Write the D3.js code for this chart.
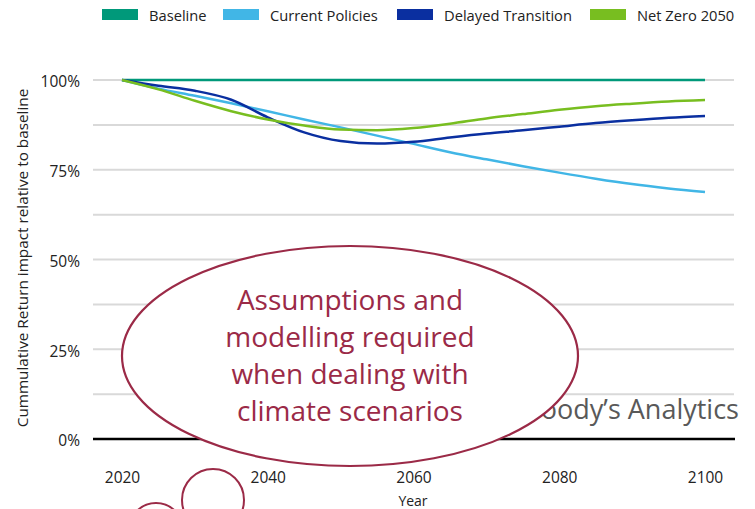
<!DOCTYPE html>
<html>
<head>
<meta charset="utf-8">
<script src="https://cdn.jsdelivr.net/npm/d3@7"></script>
<style>
  body { margin: 0; background: #fff; }
  svg { font-family: "Open Sans", "Noto Sans", sans-serif; }
</style>
</head>
<body>
<svg id="chart" width="755" height="509"></svg>
<script>
const years = [2020, 2025, 2030, 2035, 2040, 2045, 2050, 2055, 2060, 2065, 2070, 2075, 2080, 2085, 2090, 2095, 2100]
const baseline = [100, 100, 100, 100, 100, 100, 100, 100, 100, 100, 100, 100, 100, 100, 100, 100, 100]
const currentPolicies = [100, 97.6, 95.6, 93.5, 91.3, 89, 86.8, 84.5, 82.2, 79.9, 77.9, 76, 74.2, 72.5, 71, 69.8, 68.8]
const delayedTransition = [100, 98.4, 97, 94.5, 89.6, 85.4, 83, 82.3, 82.8, 84, 85.1, 86, 87, 88, 88.8, 89.5, 90]
const netZero = [100, 97.4, 94.2, 91.3, 89, 87.3, 86.2, 86, 86.6, 87.8, 89.3, 90.5, 91.7, 92.7, 93.4, 94, 94.4]
const seriesNames = ['Baseline', 'Current Policies', 'Delayed Transition', 'Net Zero 2050']
const xTicks = [2020, 2040, 2060, 2080, 2100]
const yTicks = [0, 25, 50, 75, 100]
const noteLines = ['Assumptions and', 'modelling required', 'when dealing with', 'climate scenarios']

let svg = d3.select('#chart')

let colour = d3.scaleOrdinal()
  .domain(seriesNames)
  .range(['#00997a', '#41b6e6', '#0a2fa0', '#78be20'])

let x = d3.scaleLinear().domain([2020, 2100]).range([122, 705])
let y = d3.scaleLinear().domain([0, 100]).range([439, 80])

// gridlines (major + half steps)
svg.append('g')
  .selectAll('line')
  .data(d3.range(12.5, 101, 12.5))
  .enter()
  .append('line')
  .attr('x1', 93).attr('x2', 734)
  .attr('y1', d => y(d)).attr('y2', d => y(d))
  .attr('stroke', '#d9d9d9')
  .attr('stroke-width', 2)

svg.append('line')
  .attr('x1', 93).attr('x2', 735)
  .attr('y1', y(0)).attr('y2', y(0))
  .attr('stroke', '#000')
  .attr('stroke-width', 2.5)

// y axis labels
svg.append('g')
  .attr('transform', 'translate(80,2)')
  .call(d3.axisLeft(y).tickValues(yTicks).tickSize(0).tickPadding(0).tickFormat(d => d + '%'))
  .call(g => g.select('.domain').remove())
  .selectAll('text')
  .attr('font-size', 15.5)
  .attr('fill', '#222')
  .attr('font-family', '"Open Sans", sans-serif')

// x axis labels
svg.append('g')
  .attr('transform', 'translate(0,472)')
  .call(d3.axisBottom(x).tickValues(xTicks).tickSize(0).tickPadding(0).tickFormat(d3.format('d')))
  .call(g => g.select('.domain').remove())
  .selectAll('text')
  .attr('font-size', 15.5)
  .attr('fill', '#222')
  .attr('font-family', '"Open Sans", sans-serif')

svg.append('text')
  .attr('x', 413).attr('y', 506)
  .attr('text-anchor', 'middle')
  .attr('font-size', 14)
  .attr('fill', '#222')
  .text('Year')

svg.append('text')
  .attr('transform', 'translate(28,258) rotate(-90)')
  .attr('text-anchor', 'middle')
  .attr('font-size', 15.3)
  .attr('fill', '#222')
  .text('Cummulative Return impact relative to baseline')

// lines
let line = d3.line()
  .x((d, i) => x(years[i]))
  .y(d => y(d))
  .curve(d3.curveMonotoneX)

let allSeries = [baseline, currentPolicies, delayedTransition, netZero]
svg.append('g')
  .selectAll('path')
  .data(allSeries)
  .enter()
  .append('path')
  .attr('d', line)
  .attr('fill', 'none')
  .attr('stroke', (d, i) => colour(seriesNames[i]))
  .attr('stroke-width', 2.5)

// legend
let legendX = [102, 223, 397, 590]
let legend = svg.append('g')
  .selectAll('g')
  .data(seriesNames)
  .enter()
  .append('g')
  .attr('transform', (d, i) => `translate(${legendX[i]},9)`)
legend.append('rect')
  .attr('width', 36).attr('height', 11)
  .attr('fill', d => colour(d))
legend.append('text')
  .attr('x', 47).attr('y', 11.5)
  .attr('font-size', 14.7)
  .attr('fill', '#222')
  .text(d => d)

// watermark
svg.append('text')
  .attr('x', 739).attr('y', 419)
  .attr('text-anchor', 'end')
  .attr('font-size', 27)
  .attr('fill', '#595959')
  .text('Moody’s Analytics')

// annotation bubble
let maroon = '#9b2a47'
svg.append('ellipse')
  .attr('cx', 350).attr('cy', 356)
  .attr('rx', 228).attr('ry', 110)
  .attr('fill', '#fff')
  .attr('stroke', maroon)
  .attr('stroke-width', 2.2)

svg.append('g')
  .selectAll('text')
  .data(noteLines)
  .enter()
  .append('text')
  .attr('x', 350)
  .attr('y', (d, i) => 310 + i * 37)
  .attr('text-anchor', 'middle')
  .attr('font-size', 28)
  .attr('fill', maroon)
  .text(d => d)

svg.append('circle')
  .attr('cx', 213).attr('cy', 500).attr('r', 31)
  .attr('fill', 'none').attr('stroke', maroon).attr('stroke-width', 2)
svg.append('circle')
  .attr('cx', 156).attr('cy', 530).attr('r', 27)
  .attr('fill', 'none').attr('stroke', maroon).attr('stroke-width', 2)
</script>
</body>
</html>
